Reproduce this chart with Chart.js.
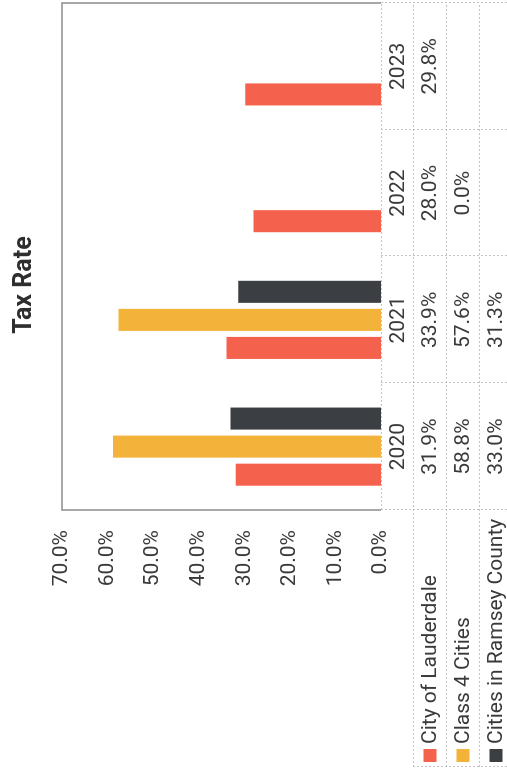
<!DOCTYPE html>
<html>
<head>
<meta charset="utf-8">
<title>Tax Rate</title>
<script src="https://cdn.jsdelivr.net/npm/chart.js@4.4.1/dist/chart.umd.min.js"></script>
<style>
  html, body { margin: 0; padding: 0; background: #fff; overflow: hidden; }
  /* the chart is laid out landscape, then turned a quarter to the left like the scan */
  #wrap {
    position: absolute; left: 0; top: 0;
    width: 771px; height: 507px;
    transform-origin: 0 0;
    transform: translateY(771px) rotate(-90deg);
  }
</style>
</head>
<body>
<div id="wrap"><canvas id="chart"></canvas></div>
<script>
var years = ['2020', '2021', '2022', '2023'];
var lauderdale = [31.9, 33.9, 28.0, 29.8];
var class4 = [58.8, 57.6, 0.0, null];
var ramsey = [33.0, 31.3, null, null];
var seriesNames = ['City of Lauderdale', 'Class 4 Cities', 'Cities in Ramsey County'];
var seriesColors = ['#f4624d', '#f3b23a', '#3b3f43'];
var yMax = 70;
var yStep = 10;

var textColor = '#3a3a3a';
var font = { family: 'Roboto', size: 21 };

function pct(v){
  return v.toFixed(1) + '%';
}

// draws frame, data table, legend keys and title
var tablePlugin = {
  id: 'tablePlugin',
  afterDraw: function(chart){
    var ctx = chart.ctx;
    var area = chart.chartArea;
    var x = chart.scales.x;
    var half = (x.getPixelForValue(1) - x.getPixelForValue(0)) / 2;
    var rows = [413, 446, 479, 512];
    var tableLeft = 4;
    var bottom = chart.height;

    ctx.save();
    // dashed table grid
    ctx.strokeStyle = '#c4c4c4';
    ctx.lineWidth = 1;
    ctx.setLineDash([2, 2]);
    ctx.beginPath();
    ctx.moveTo(area.left, area.bottom + 0.5);
    ctx.lineTo(area.right, area.bottom + 0.5);
    for (var r = 0; r < rows.length; r++) {
      ctx.moveTo(tableLeft, rows[r] + 0.5);
      ctx.lineTo(area.right, rows[r] + 0.5);
    }
    for (var i = 0; i <= years.length; i++) {
      var bx = Math.round(x.getPixelForValue(0) - half + i * 2 * half) + 0.5;
      ctx.moveTo(bx, area.bottom);
      ctx.lineTo(bx, bottom);
    }
    ctx.moveTo(tableLeft + 0.5, rows[0]);
    ctx.lineTo(tableLeft + 0.5, bottom);
    ctx.stroke();

    // plot frame
    ctx.setLineDash([]);
    ctx.strokeStyle = '#8c8c8c';
    ctx.lineWidth = 1.5;
    ctx.beginPath();
    ctx.moveTo(area.left, area.bottom);
    ctx.lineTo(area.left, area.top);
    ctx.lineTo(area.right, area.top);
    ctx.lineTo(area.right, area.bottom);
    ctx.stroke();

    // table values and legend
    var series = [lauderdale, class4, ramsey];
    ctx.font = font.size + 'px ' + font.family;
    ctx.textBaseline = 'middle';
    for (var s = 0; s < series.length; s++) {
      var cy = (rows[s] + rows[s + 1]) / 2 + 1;
      ctx.fillStyle = seriesColors[s];
      ctx.fillRect(9, cy - 7, 13, 13);
      ctx.fillStyle = textColor;
      ctx.textAlign = 'left';
      ctx.fillText(seriesNames[s], 27, cy);
      ctx.textAlign = 'center';
      for (var c = 0; c < years.length; c++) {
        if (series[s][c] === null) continue;
        ctx.fillText(pct(series[s][c]), x.getPixelForValue(c), cy);
      }
    }

    // title
    ctx.font = 'bold 25px Roboto';
    ctx.fillStyle = '#2e2e2e';
    ctx.textAlign = 'center';
    ctx.fillText('Tax Rate', 486, 25);
    ctx.restore();
  }
};

var ctx = document.getElementById('chart').getContext('2d');
var myBar = new Chart(ctx, {
  type: 'bar',
  data: {
    labels: years,
    datasets: [lauderdale, class4, ramsey].map(function(d, i){
      return {
        label: seriesNames[i],
        data: d,
        backgroundColor: seriesColors[i],
        borderWidth: 0,
        categoryPercentage: 0.664,
        barPercentage: 0.786
      };
    })
  },
  options: {
    responsive: true,
    maintainAspectRatio: false,
    animation: false,
    layout: { padding: { top: 62, right: 3, left: 0, bottom: 0 } },
    plugins: {
      legend: { display: false },
      title: { display: false },
      tooltip: { enabled: false }
    },
    scales: {
      x: {
        grid: { display: false, drawTicks: false },
        border: { display: false },
        ticks: { font: font, color: textColor, padding: 5, maxRotation: 0 },
        afterFit: function(scale){ scale.height = 126; }
      },
      y: {
        min: 0,
        max: yMax,
        grid: { display: false, drawTicks: false },
        border: { display: false },
        ticks: {
          stepSize: yStep,
          font: font,
          color: textColor,
          padding: 20,
          callback: function(v){ return pct(v); }
        },
        afterFit: function(scale){ scale.width = 261; }
      }
    }
  },
  plugins: [tablePlugin]
});
</script>
</body>
</html>
